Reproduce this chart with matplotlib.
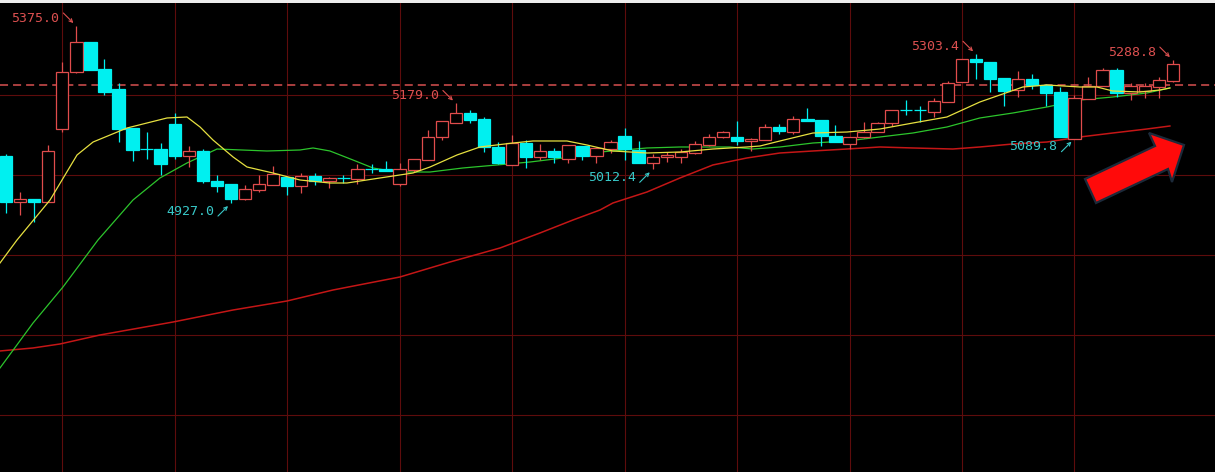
import numpy as np
import matplotlib.pyplot as plt
from matplotlib.patches import Rectangle, Polygon

plt.rcParams['lines.scale_dashes'] = False

# ---- candle data (index 0..83) ----
opens = [5046.1, 4929.0, 4937.3, 4929.7, 5114.4, 5258.6, 5334.5, 5266.2, 5215.6, 5117.0,
         5064.5, 5063.8, 5127.1, 5046.1, 5058.8, 4982.9, 4975.3, 4937.3, 4960.1, 4972.8,
         4993.0, 4970.2, 4995.5, 4982.9, 4991.0, 4987.9, 5014.0, 5013.2, 4975.3, 5010.7,
         5036.0, 5094.2, 5129.6, 5154.9, 5139.7, 5068.9, 5023.4, 5079.0, 5043.6, 5058.8,
         5038.5, 5071.4, 5046.1, 5063.8, 5096.7, 5061.3, 5028.4, 5043.6, 5043.6, 5053.7,
         5074.0, 5094.2, 5094.2, 5084.1, 5086.6, 5119.5, 5106.8, 5139.7, 5137.2, 5096.7,
         5076.5, 5094.2, 5106.8, 5129.6, 5163.5, 5163.0, 5157.4, 5182.7, 5233.3, 5291.5,
         5283.9, 5243.5, 5213.1, 5240.9, 5225.8, 5208.0, 5089.1, 5190.3, 5223.2, 5263.7,
         5205.5, 5210.6, 5220.7, 5235.9]
highs = [5051.2, 4955.0, 4937.3, 5074.0, 5283.9, 5375.0, 5334.5, 5291.5, 5230.8, 5117.0,
         5106.8, 5079.0, 5154.9, 5071.4, 5063.8, 4998.1, 4975.3, 4972.8, 4998.1, 5020.8,
         4993.0, 5003.1, 5003.1, 4993.0, 4998.1, 5025.9, 5025.9, 5033.5, 5028.4, 5038.5,
         5111.9, 5134.7, 5179.0, 5162.5, 5144.8, 5081.5, 5099.3, 5086.6, 5076.5, 5066.4,
         5074.0, 5071.4, 5068.9, 5086.6, 5117.0, 5084.1, 5051.2, 5056.2, 5063.8, 5084.1,
         5101.8, 5109.4, 5134.7, 5091.7, 5127.1, 5127.1, 5147.3, 5167.6, 5137.2, 5124.6,
         5094.2, 5132.1, 5132.1, 5162.5, 5187.8, 5172.6, 5192.9, 5235.9, 5291.5, 5303.4,
         5283.9, 5243.5, 5261.2, 5253.6, 5228.3, 5220.7, 5200.5, 5246.0, 5268.8, 5268.8,
         5230.8, 5230.8, 5246.0, 5288.8]
lows = [4901.9, 4896.9, 4879.1, 4929.7, 5106.8, 5256.1, 5263.7, 5200.5, 5081.5, 5033.5,
        5038.5, 4998.1, 5038.5, 5018.3, 4977.8, 4955.0, 4927.0, 4934.8, 4955.0, 4972.8,
        4947.5, 4952.5, 4972.8, 4965.2, 4977.8, 4975.3, 5003.1, 5008.2, 4970.2, 5005.6,
        5036.0, 5086.6, 5129.6, 5129.6, 5056.2, 5025.9, 5023.4, 5015.8, 5036.0, 5028.4,
        5028.4, 5036.0, 5028.4, 5053.7, 5036.0, 5028.4, 5012.4, 5030.9, 5028.4, 5051.2,
        5071.4, 5091.7, 5074.0, 5058.8, 5086.6, 5101.8, 5101.8, 5134.7, 5071.4, 5081.5,
        5063.8, 5091.7, 5106.8, 5121.0, 5149.9, 5132.1, 5144.8, 5182.7, 5233.3, 5240.9,
        5208.0, 5172.6, 5195.4, 5215.6, 5172.6, 5094.2, 5089.8, 5190.3, 5223.2, 5195.4,
        5187.8, 5192.9, 5192.9, 5233.3]
closes = [4930.0, 4937.3, 4929.7, 5058.8, 5258.6, 5334.5, 5263.7, 5208.0, 5114.4, 5061.3,
          5063.0, 5025.9, 5046.1, 5058.8, 4982.9, 4970.2, 4937.3, 4962.6, 4975.3, 5000.6,
          4970.2, 4995.5, 4982.9, 4990.5, 4989.5, 5013.2, 5012.5, 5008.2, 5013.2, 5038.5,
          5094.2, 5134.7, 5154.9, 5137.2, 5068.9, 5028.4, 5079.0, 5043.6, 5058.8, 5043.6,
          5074.0, 5046.1, 5066.4, 5081.5, 5063.8, 5028.4, 5043.6, 5048.7, 5056.2, 5076.5,
          5094.2, 5106.8, 5084.1, 5089.1, 5119.5, 5109.4, 5139.7, 5134.7, 5096.7, 5081.5,
          5094.2, 5106.8, 5129.6, 5162.5, 5161.5, 5161.5, 5185.3, 5230.8, 5291.5, 5283.9,
          5240.9, 5210.6, 5240.9, 5225.8, 5205.5, 5094.2, 5192.9, 5223.2, 5263.7, 5205.5,
          5223.2, 5223.2, 5238.4, 5278.9]

# ---- moving averages (index, price) ----
ma_short_x = [-0.43, 0.78, 3.13, 5.05, 6.19, 8.61, 11.45, 12.87, 13.80, 14.72, 16.15, 17.14,
              18.99, 20.91, 23.04, 24.25, 26.60, 28.95, 30.16, 32.08, 33.71, 36.06, 37.48,
              39.90, 41.32, 43.17, 45.59, 47.94, 50.28, 52.70, 53.63, 55.05, 57.40, 59.82,
              62.16, 64.51, 66.93, 69.27, 70.70, 72.33, 74.04, 76.39, 77.60, 78.73, 80.65,
              82.08, 82.79]
ma_short_y = [4775.4, 4833.6, 4934.8, 5048.7, 5081.5, 5117.0, 5142.3, 5144.8, 5119.5, 5086.6,
              5043.6, 5018.3, 5003.1, 4985.4, 4977.8, 4977.8, 4990.5, 5003.1, 5018.3, 5048.7,
              5068.9, 5079.0, 5084.1, 5084.1, 5074.0, 5058.8, 5053.7, 5056.2, 5063.8, 5068.9,
              5071.4, 5084.1, 5104.3, 5106.8, 5114.4, 5129.6, 5144.8, 5182.7, 5200.5, 5220.7,
              5225.8, 5220.7, 5220.7, 5210.6, 5208.0, 5213.1, 5218.2]

ma_mid_x = [-0.43, 1.92, 4.05, 6.54, 9.03, 10.95, 12.87, 15.01, 18.56, 20.91, 21.84, 23.04,
            24.68, 26.10, 27.81, 30.16, 32.50, 34.92, 37.27, 39.62, 42.25, 45.59, 47.94,
            51.49, 53.13, 55.05, 57.40, 59.82, 62.16, 64.51, 66.93, 69.27, 71.62, 74.04,
            76.39, 78.73, 81.15, 82.79]
ma_mid_y = [4509.8, 4623.6, 4714.7, 4833.6, 4934.8, 4990.5, 5028.4, 5063.8, 5058.8, 5061.3,
            5066.4, 5058.8, 5036.0, 5015.8, 5005.6, 5005.6, 5015.8, 5023.4, 5030.9, 5041.1,
            5056.2, 5066.4, 5068.9, 5068.9, 5063.8, 5068.9, 5079.0, 5084.1, 5094.2, 5104.3,
            5119.5, 5142.3, 5154.9, 5170.1, 5187.8, 5195.4, 5205.5, 5218.2]

ma_long_x = [-0.43, 1.92, 3.84, 6.69, 11.88, 16.15, 19.99, 23.26, 28.02, 31.58, 35.14, 37.98,
             40.33, 42.25, 43.17, 45.59, 47.94, 50.28, 52.70, 55.05, 57.40, 59.82, 62.16,
             64.51, 67.35, 69.27, 71.62, 74.04, 76.39, 78.73, 81.15, 82.79]
ma_long_y = [4552.8, 4560.4, 4570.5, 4593.3, 4626.1, 4656.5, 4679.3, 4707.1, 4740.0, 4777.9,
             4813.4, 4851.3, 4884.2, 4909.5, 4927.2, 4955.0, 4990.5, 5023.4, 5041.1, 5053.7,
             5058.8, 5063.8, 5068.9, 5066.4, 5063.8, 5068.9, 5076.5, 5081.5, 5094.2, 5104.3,
             5114.4, 5122.0]

# extreme labels: (index, price, text, kind)
marks = [(5, 5375.0, '5375.0', 'high'), (16, 4927.0, '4927.0', 'low'),
         (32, 5179.0, '5179.0', 'high'), (46, 5012.4, '5012.4', 'low'),
         (69, 5303.4, '5303.4', 'high'), (76, 5089.8, '5089.8', 'low'),
         (83, 5288.8, '5288.8', 'high')]

ref_line = 5225.8
hgrid = [5200.5, 4998.1, 4795.6, 4593.2, 4390.8]
vgrid = [4, 12, 20, 28, 36, 44, 52, 60, 68, 76]

UP = '#e04c4c'
DOWN = '#00f0f0'
GRID = '#5e0c0c'

fig = plt.figure(figsize=(12.15, 4.72), dpi=100, facecolor='black')
ax = fig.add_axes([0, 0, 1, 1])
ax.set_facecolor('black')
ax.set_xlim(-0.43, 86.0)
ax.set_ylim(4246.6, 5440.8)
ax.axis('off')

for g in hgrid:
    ax.axhline(g, color=GRID, lw=0.8, zorder=0)
for g in vgrid:
    ax.axvline(g, color=GRID, lw=0.8, zorder=0)

ax.axhline(ref_line, color='#d85050', lw=1.1, dashes=(5.8, 3.6), zorder=1)

ax.plot(ma_long_x, ma_long_y, color='#c41616', lw=1.1, zorder=2)
ax.plot(ma_mid_x, ma_mid_y, color='#2cc42c', lw=0.9, zorder=2)

w = 0.88
for i in range(len(opens)):
    o, h, l, c = opens[i], highs[i], lows[i], closes[i]
    if c >= o:
        ax.vlines(i, c, h, color=UP, lw=0.9, zorder=3)
        ax.vlines(i, l, o, color=UP, lw=0.9, zorder=3)
        ax.add_patch(Rectangle((i - w / 2, o), w, max(c - o, 0.8), facecolor='black',
                               edgecolor=UP, lw=0.9, zorder=4))
    else:
        ax.vlines(i, l, h, color=DOWN, lw=0.9, zorder=3)
        ax.add_patch(Rectangle((i - w / 2, c), w, max(o - c, 0.8), facecolor=DOWN,
                               edgecolor=DOWN, lw=0.9, zorder=4))

ax.plot(ma_short_x, ma_short_y, color='#e6e040', lw=0.9, zorder=5)

for k, p, txt, kind in marks:
    s = 1 if kind == 'high' else -1
    col = '#dc5050' if kind == 'high' else '#38c8c8'
    ax.annotate(txt, xy=(k, p), xytext=(-17, 8 * s), textcoords='offset pixels',
                ha='right', va='center', color=col, fontsize=9.5,
                family='DejaVu Sans Mono', zorder=6)
    ax.annotate('', xy=(k, p), xytext=(-13, 13 * s), textcoords='offset pixels',
                arrowprops=dict(arrowstyle='->', color=col, lw=0.8, mutation_scale=6,
                                shrinkA=0, shrinkB=3), zorder=6)

# big red arrow (pixel outline, y from top)
arrow_px = [(1085, 179), (1155, 146), (1149, 133), (1184, 145), (1172, 182), (1168, 169),
            (1096, 203)]
arrow_fig = [(x / 1215, 1 - y / 472) for x, y in arrow_px]
fig.patches.append(Polygon(arrow_fig, closed=True, transform=fig.transFigure,
                           facecolor='#ff0a0a', edgecolor='#1c2a3a', lw=1.6,
                           joinstyle='miter', zorder=10))

# light strip along top edge
fig.patches.append(Rectangle((0, 1 - 2.5 / 472), 1, 2.5 / 472, transform=fig.transFigure,
                             facecolor='#eeeeee', edgecolor='none', zorder=10))

plt.savefig('out.png', dpi=100, facecolor='black')
